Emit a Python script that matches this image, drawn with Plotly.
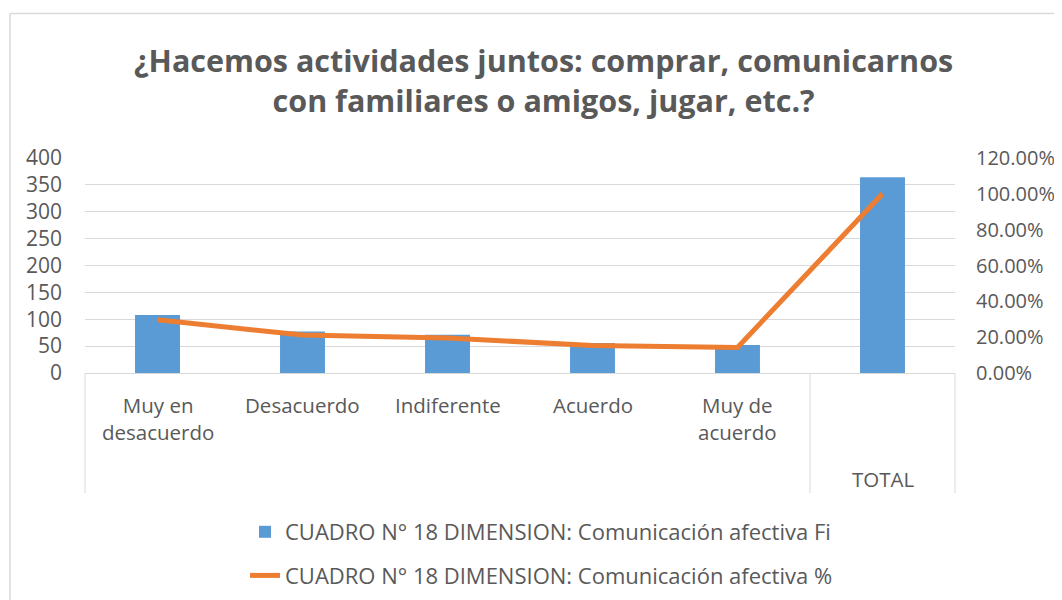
import plotly.graph_objects as go

categories = ["Muy en desacuerdo", "Desacuerdo", "Indiferente", "Acuerdo", "Muy de acuerdo", "TOTAL"]
cat_labels = ["Muy en<br>desacuerdo", "Desacuerdo", "Indiferente", "Acuerdo", "Muy de<br>acuerdo", "TOTAL"]
fi_values = [108, 77, 71, 56, 52, 364]
pct_values = [0.2967, 0.2115, 0.1951, 0.1538, 0.1429, 1.0]
left_ticks = [0, 50, 100, 150, 200, 250, 300, 350, 400]
right_ticks = [0, 0.2, 0.4, 0.6, 0.8, 1.0, 1.2]

name_fi = "CUADRO N° 18 DIMENSION: Comunicación afectiva Fi"
name_pct = "CUADRO N° 18 DIMENSION: Comunicación afectiva %"

FONT = "Open Sans"
GREY = "#595959"

OFF = 8  # page body margin
W, H = 1062 - OFF, 600 - OFF
L, R, T, B = 85 - OFF, 955 - OFF, 158 - OFF, 373 - OFF
pw, ph = R - L, B - T

def px_x(x):
    return (x - OFF - L) / pw

def px_y(y):
    return (B - (y - OFF)) / ph

fig = go.Figure()
fig.add_trace(go.Bar(
    x=categories, y=fi_values, name=name_fi, marker_color="#5B9BD5",
    marker_line_width=0, legendgroup="a", yaxis="y",
))
fig.add_trace(go.Scatter(
    x=categories, y=pct_values, name=name_pct, mode="lines",
    line=dict(color="#ED7D31", width=5), legendgroup="b", yaxis="y2",
))

annotations = [
    dict(text="<b>¿Hacemos actividades juntos: comprar, comunicarnos<br>con familiares o amigos, jugar, etc.?</b>",
         xref="paper", yref="paper", x=px_x(543), y=px_y(80), xanchor="center", yanchor="middle",
         showarrow=False, font=dict(family=FONT, size=30.5, color=GREY), align="center"),
]
for i, lab in enumerate(cat_labels):
    if lab == "TOTAL":
        ypos = px_y(479)
        yanch = "middle"
    else:
        ypos = px_y(389)
        yanch = "top"
    annotations.append(dict(text=lab, x=categories[i], xref="x", yref="paper", y=ypos,
                            xanchor="center", yanchor=yanch, showarrow=False, align="center",
                            font=dict(family=FONT, size=20.5, color=GREY)))

shapes = []
for xp in [85, 85 + 5 * 870 / 6, 955]:
    shapes.append(dict(type="line", xref="paper", yref="paper", x0=px_x(xp), x1=px_x(xp),
                       y0=0, y1=px_y(493), line=dict(color="#D9D9D9", width=1)))
# outer chart border
shapes.append(dict(type="line", xref="paper", yref="paper", x0=px_x(10), x1=px_x(1070),
                   y0=px_y(13.5), y1=px_y(13.5), line=dict(color="#D9D9D9", width=1.5)))
shapes.append(dict(type="line", xref="paper", yref="paper", x0=px_x(10), x1=px_x(10),
                   y0=px_y(13.5), y1=px_y(610), line=dict(color="#D9D9D9", width=1.5)))

fig.update_layout(
    width=W, height=H,
    margin=dict(l=L, r=W - R, t=T, b=H - B, autoexpand=False),
    paper_bgcolor="white", plot_bgcolor="white",
    bargap=0.69,
    showlegend=True,
    legend=dict(x=px_x(245), y=px_y(511), xanchor="left", yanchor="top",
                font=dict(family=FONT, size=22, color=GREY), tracegroupgap=12,
                bgcolor="rgba(0,0,0,0)"),
    xaxis=dict(type="category", showticklabels=False, showgrid=False, showline=True,
               linecolor="#D9D9D9", linewidth=1, ticks="", zeroline=False),
    yaxis=dict(range=[0, 400], tickvals=left_ticks, ticktext=[str(v) for v in left_ticks],
               showgrid=True, gridcolor="#D9D9D9", gridwidth=1, zeroline=False, showline=False,
               tickfont=dict(family=FONT, size=21, color=GREY), ticks="", ticklabelstandoff=22),
    yaxis2=dict(range=[0, 1.2], overlaying="y", side="right", tickvals=right_ticks,
                ticktext=[f"{v*100:.2f}%" for v in right_ticks], showgrid=False, zeroline=False,
                showline=False, tickfont=dict(family=FONT, size=20, color=GREY), ticks="",
                ticklabelstandoff=20),
    annotations=annotations,
    shapes=shapes,
)

fig.write_html("out.html")
